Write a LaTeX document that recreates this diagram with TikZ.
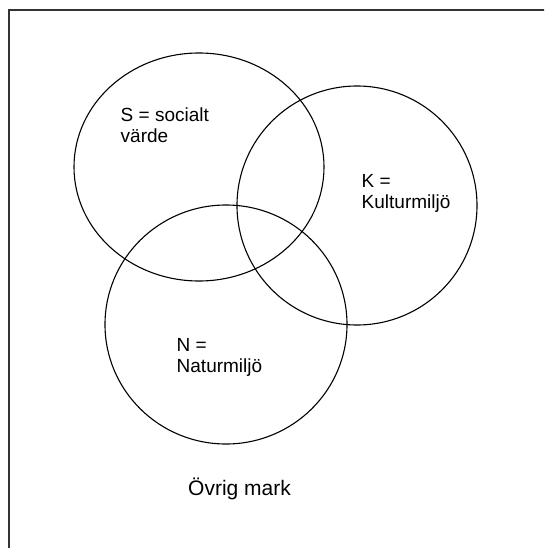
\documentclass[tikz,border=0pt]{standalone}
\usepackage{fontspec}
\setmainfont{Liberation Sans}
\begin{document}
\begin{tikzpicture}[x=1pt,y=-1pt,
  ring/.style={draw=black, line width=1.1pt},
  frame/.style={draw=black!80, line width=2pt},
  lbl/.style={anchor=base west, align=left, inner sep=0pt, text=black, font=\fontsize{19}{21}\selectfont}]
\useasboundingbox (0,0) rectangle (544,548);
\clip (0,0) rectangle (544,548);
\fill[white] (0,0) rectangle (544,548);
\draw[frame] (8.5,10.5) rectangle (620,620);
\draw[ring] (199,167) ellipse [x radius=125pt, y radius=114pt];
\draw[ring] (357,205.5) ellipse [x radius=120pt, y radius=119.5pt];
\draw[ring] (226,324.5) ellipse [x radius=121pt, y radius=119.5pt];
\node[lbl] (s) at (120.5,142.7) {S = socialt\\värde};
\node[lbl] (k) at (361.5,208) {K =\\Kulturmiljö};
\node[lbl] (n) at (176.5,372.7) {N =\\Naturmiljö};
\node[lbl, font=\fontsize{21}{24}\selectfont] (o) at (188,495) {Övrig mark};
\end{tikzpicture}
\end{document}
